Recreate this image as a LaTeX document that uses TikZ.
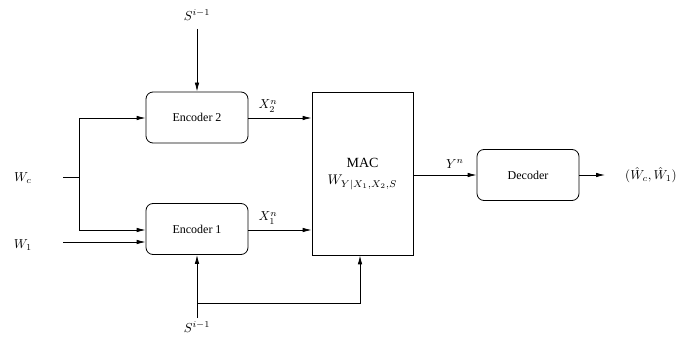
\documentclass[tikz,border=0pt]{standalone}
\usepackage{fontspec}
\setmainfont{Liberation Serif}
\usetikzlibrary{arrows.meta}
\begin{document}
\begin{tikzpicture}[x=1pt,y=-1pt,
  line width=0.8pt,
  arr/.style={-{Latex[length=9pt,width=4.5pt]}},
  rbox/.style={draw, rounded corners=7pt, minimum width=102pt, minimum height=51pt, inner sep=0pt, font=\fontsize{12}{14}\selectfont},
  lbl/.style={inner sep=0pt, scale=1.3}]
\useasboundingbox (0,0) rectangle (691,339);
\node[rbox] (enc2) at (197,117.5) {Encoder 2};
\node[rbox] (enc1) at (197,229) {Encoder 1};
\node[draw, minimum width=101pt, minimum height=163pt, inner sep=0pt] (mac) at (362.5,173.5) {};
\node[inner sep=0pt, scale=1.4, align=center] (mact) at (362.5,174) {MAC\\[0pt]$W_{Y|X_1,X_2,S}$};
\node[rbox] (dec) at (528,175) {Decoder};
% labels
\node[lbl] (s2) at (197,15) {$S^{i-1}$};
\node[lbl] (s1) at (197,327) {$S^{i-1}$};
\node[lbl] (wc) at (23,178) {$W_c$};
\node[lbl] (w1) at (23,245) {$W_1$};
\node[lbl] (out) at (651,175) {$(\hat W_c,\hat W_1)$};
\node[lbl] (x2) at (268,106) {$X_2^n$};
\node[lbl] (x1) at (268,218) {$X_1^n$};
\node[lbl] (yn) at (455,164) {$Y^n$};
% coordinates
\coordinate (s2t) at (197,29);
\coordinate (wcs) at (63,177);
\coordinate (wcj) at (79,177);
\coordinate (wcu) at (79,118);
\coordinate (wcd) at (79,230);
\coordinate (w1s) at (63,242);
\coordinate (s1b) at (197,318);
\coordinate (s1j) at (197,303);
\coordinate (s1r) at (360,303);
\coordinate (oute) at (605,175);
% connectors
\draw[arr] (s2t) -- (enc2.north);
\draw (wcs) -- (wcj);
\draw[arr] (wcd) -- (wcu) -- (wcu -| enc2.west);
\draw[arr] (wcj) -- (wcd) -- (wcd -| enc1.west);
\draw[arr] (w1s) -- (w1s -| enc1.west);
\draw[arr] (enc2.east |- wcu) -- (wcu -| mac.west);
\draw[arr] (enc1.east |- wcd) -- (wcd -| mac.west);
\draw[arr] (s1b) -- (enc1.south);
\draw[arr] (s1j) -- (s1r) -- (s1r |- mac.south);
\draw[arr] (mac.east |- dec.west) -- (dec.west);
\draw[arr] (dec.east) -- (oute);
\end{tikzpicture}
\end{document}
